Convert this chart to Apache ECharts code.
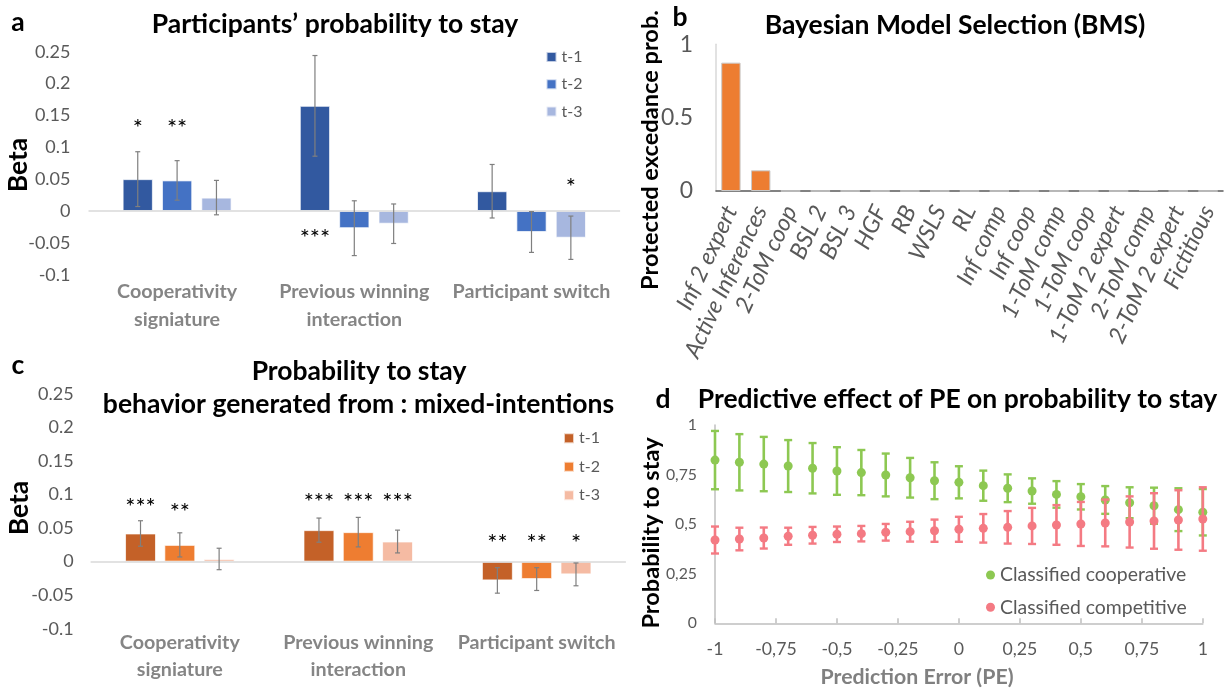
<!DOCTYPE html>
<html>
<head>
<meta charset="utf-8">
<script src="https://cdn.jsdelivr.net/npm/echarts@6/dist/echarts.min.js"></script>
<style>
  html, body { margin: 0; padding: 0; background: #fff; }
  #fig { width: 1224px; height: 691px; }
</style>
</head>
<body>
<div id="fig"></div>
<script>
// ---------- data ----------
const predictors = ['Cooperativity\nsigniature', 'Previous winning\ninteraction', 'Participant switch'];
const lagNames = ['t-1', 't-2', 't-3'];

// (a) participants' regression betas and SEM
const betaA_t1 = [0.050, 0.165, 0.031];
const betaA_t2 = [0.048, -0.027, -0.033];
const betaA_t3 = [0.021, -0.020, -0.042];
const errA_t1 = [0.043, 0.079, 0.042];
const errA_t2 = [0.031, 0.043, 0.032];
const errA_t3 = [0.027, 0.031, 0.034];
const sigA_t1 = ['*', '***', ''];
const sigA_t2 = ['**', '', ''];
const sigA_t3 = ['', '', '*'];
const sigPosA_t1 = [0.138, -0.035, 0];
const sigPosA_t2 = [0.138, 0, 0];
const sigPosA_t3 = [0, 0, 0.044];

// (c) simulated behaviour (mixed intentions)
const betaC_t1 = [0.042, 0.047, -0.028];
const betaC_t2 = [0.025, 0.044, -0.026];
const betaC_t3 = [0.004, 0.030, -0.019];
const errC_t1 = [0.019, 0.018, 0.019];
const errC_t2 = [0.018, 0.022, 0.017];
const errC_t3 = [0.016, 0.017, 0.017];
const sigC_t1 = ['***', '***', '**'];
const sigC_t2 = ['**', '***', '**'];
const sigC_t3 = ['', '***', '*'];
const sigPosC_t1 = [0.088, 0.095, 0.034];
const sigPosC_t2 = [0.080, 0.095, 0.034];
const sigPosC_t3 = [0, 0.095, 0.034];

// (b) Bayesian model selection
const models = ['Inf 2 expert', 'Active Inferences', '2-ToM coop', 'BSL 2', 'BSL 3', 'HGF', 'RB', 'WSLS', 'RL',
  'Inf comp', 'Inf coop', '1-ToM comp', '1-ToM coop', '1-ToM 2 expert', '2-ToM comp', '2-ToM 2 expert', 'Fictitious'];
const pxp = [0.875, 0.141, 0, 0, 0, 0, 0, 0, 0, 0, 0, 0, 0, 0, 0.006, 0, 0];

// (d) probability to stay as a function of prediction error
const peValues = [-1, -0.9, -0.8, -0.7, -0.6, -0.5, -0.4, -0.3, -0.2, -0.1, 0, 0.1, 0.2, 0.3, 0.4, 0.5, 0.6, 0.7, 0.8, 0.9, 1];
const stayCoop = [0.823, 0.812, 0.803, 0.793, 0.782, 0.768, 0.760, 0.748, 0.734, 0.719, 0.711, 0.694, 0.681, 0.667, 0.650, 0.638, 0.622, 0.608, 0.593, 0.573, 0.560];
const stayCoopErr = [0.147, 0.142, 0.137, 0.131, 0.127, 0.120, 0.114, 0.108, 0.100, 0.093, 0.081, 0.076, 0.070, 0.064, 0.067, 0.064, 0.070, 0.078, 0.091, 0.108, 0.117];
const stayComp = [0.420, 0.425, 0.430, 0.439, 0.444, 0.449, 0.452, 0.459, 0.462, 0.467, 0.474, 0.479, 0.484, 0.491, 0.496, 0.501, 0.506, 0.511, 0.516, 0.521, 0.526];
const stayCompErr = [0.068, 0.057, 0.053, 0.043, 0.042, 0.039, 0.039, 0.042, 0.050, 0.056, 0.063, 0.072, 0.082, 0.091, 0.100, 0.111, 0.118, 0.129, 0.140, 0.150, 0.160];

// ---------- styling ----------
const FONT = 'Lato, "Open Sans", "Noto Sans", sans-serif';
const GREY = '#595959';
const blues = ['#3259A0', '#4472C4', '#A7B7DF'];
const oranges = ['#C46128', '#EE7D31', '#F5BBA3'];
const GREEN = '#8DC852';
const RED = '#F47A83';

const GAP_A = { cat: 0.385, bar: 0.30 };
const GAP_C = { cat: 0.386, bar: 0.27 };

// font size that makes a string span the given width
const measureCtx = document.createElement('canvas').getContext('2d');
function sizeFor(text, width, weight, style) {
  measureCtx.font = (style || 'normal') + ' ' + (weight || 'normal') + ' 100px ' + FONT;
  return Math.round(100 * width / measureCtx.measureText(text).width * 10) / 10;
}

const TITLE_SIZE = sizeFor('behavior generated from : mixed-intentions', 512, 'bold');
const STAR_SIZE = sizeFor('***', 30.5);
const CAT_SIZE = sizeFor('Cooperativity', 120, 'bold');
const LEG_SIZE = sizeFor('t-1', 21);
const LEG_D_SIZE = sizeFor('Classified cooperative', 186);
const MODEL_SIZE = sizeFor('2-ToM coop', 115, 'normal', 'italic');
const BMS_TICK_SIZE = sizeFor('0.5', 32);
const PE_X_SIZE = sizeFor('-0,75', 41.5);
const PE_Y_SIZE = sizeFor('0,75', 31);

function barSeries(name, values, color, axis, gaps, withZeroLine) {
  const s = {
    type: 'bar', name, data: values, xAxisIndex: axis, yAxisIndex: axis,
    barCategoryGap: (gaps.cat * 100) + '%', barGap: (gaps.bar * 100) + '%',
    itemStyle: { color, borderColor: 'rgba(255,255,255,0.7)', borderWidth: 1 },
    z: 2, silent: true
  };
  if (withZeroLine) {
    s.markLine = {
      silent: true, symbol: 'none', label: { show: false },
      lineStyle: { color: '#D9D9D9', width: 1.5, type: 'solid' },
      data: [{ yAxis: 0 }]
    };
  }
  return s;
}

// x-centre of bar k (out of 3) inside its category band
function groupedX(api, catIdx, value, k, gaps) {
  const band = api.size([1, 0])[0];
  const inner = band * (1 - gaps.cat);
  const bw = inner / (3 + 2 * gaps.bar);
  return api.coord([catIdx, value])[0] - inner / 2 + bw / 2 + k * bw * (1 + gaps.bar);
}

function groupedErrors(axis, k, means, errs, gaps) {
  return {
    type: 'custom', xAxisIndex: axis, yAxisIndex: axis, z: 5, silent: true, clip: false,
    data: means.map((m, i) => [i, m, errs[i]]),
    renderItem: (params, api) => {
      const i = api.value(0), m = api.value(1), e = api.value(2);
      const cx = groupedX(api, i, m, k, gaps);
      const y1 = api.coord([i, m + e])[1], y2 = api.coord([i, m - e])[1];
      const st = { stroke: '#7F7F7F', lineWidth: 1.2 };
      return { type: 'group', children: [
        { type: 'line', shape: { x1: cx, y1: y1, x2: cx, y2: y2 }, style: st },
        { type: 'line', shape: { x1: cx - 2.5, y1: y1, x2: cx + 2.5, y2: y1 }, style: st },
        { type: 'line', shape: { x1: cx - 2.5, y1: y2, x2: cx + 2.5, y2: y2 }, style: st }
      ] };
    }
  };
}

function significance(axis, k, marks, positions, gaps) {
  const items = [];
  marks.forEach((t, i) => { if (t) items.push({ i, pos: positions[i], text: t }); });
  return {
    type: 'custom', xAxisIndex: axis, yAxisIndex: axis, z: 6, silent: true, clip: false,
    data: items.map(d => [d.i, d.pos]),
    renderItem: (params, api) => {
      const d = items[params.dataIndex];
      const cx = groupedX(api, d.i, d.pos, k, gaps);
      const cy = api.coord([d.i, d.pos])[1];
      return { type: 'text', x: cx, y: cy + STAR_SIZE * 0.2, style: {
        text: d.text, font: STAR_SIZE + 'px ' + FONT, fill: '#000',
        align: 'center', verticalAlign: 'middle', textAlign: 'center', textVerticalAlign: 'middle'
      } };
    }
  };
}

function peErrors(ys, errs, color, z) {
  return {
    type: 'custom', xAxisIndex: 3, yAxisIndex: 3, z, silent: true, clip: false,
    data: peValues.map((x, i) => [x, ys[i], errs[i]]),
    renderItem: (params, api) => {
      const x = api.value(0), y = api.value(1), e = api.value(2);
      const cx = api.coord([x, y])[0];
      const y1 = api.coord([x, y + e])[1], y2 = api.coord([x, y - e])[1];
      const st = { stroke: color, lineWidth: 2.6 };
      const cap = { stroke: color, lineWidth: 2.4 };
      return { type: 'group', children: [
        { type: 'line', shape: { x1: cx, y1: y1, x2: cx, y2: y2 }, style: st },
        { type: 'line', shape: { x1: cx - 4, y1: y1, x2: cx + 4, y2: y1 }, style: cap },
        { type: 'line', shape: { x1: cx - 4, y1: y2, x2: cx + 4, y2: y2 }, style: cap }
      ] };
    }
  };
}

const commaFmt = v => String(v).replace('.', ',');

function betaCategoryAxis(grid, margin, lh) {
  return {
    type: 'category', gridIndex: grid, data: predictors,
    axisLine: { show: false, onZero: false }, axisTick: { show: false },
    axisLabel: { interval: 0, margin, color: '#858585', fontFamily: FONT, fontSize: CAT_SIZE, fontWeight: 'bold', lineHeight: lh }
  };
}
function betaValueAxis(grid, margin) {
  return {
    type: 'value', gridIndex: grid, min: -0.1, max: 0.25, interval: 0.05,
    axisLine: { show: false, onZero: false }, axisTick: { show: false }, splitLine: { show: false },
    axisLabel: { margin, color: GREY, fontFamily: FONT, fontSize: 18 }
  };
}

function txt(x, y, text, size, opts) {
  opts = opts || {};
  return {
    type: 'text', x, y, rotation: opts.rot || 0, silent: true,
    style: {
      text, font: (opts.weight || 'bold') + ' ' + size + 'px ' + FONT, fill: opts.color || '#000',
      align: 'center', verticalAlign: 'middle', textAlign: 'center', textVerticalAlign: 'middle'
    }
  };
}

const option = {
  animation: false,
  backgroundColor: '#fff',
  grid: [
    { left: 88.5, top: 51.7, width: 531.6, height: 223 },
    { left: 716, top: 44.3, width: 507, height: 146.7 },
    { left: 90.6, top: 394, width: 535.3, height: 234.7 },
    { left: 715, top: 425, width: 487.8, height: 198.3 }
  ],
  xAxis: [
    betaCategoryAxis(0, 3, 28),
    {
      type: 'category', gridIndex: 1, data: models,
      axisLine: { lineStyle: { color: GREY, width: 1.5 } }, axisTick: { show: false },
      axisLabel: { interval: 0, rotate: 65, margin: 16, color: GREY, fontFamily: FONT, fontSize: MODEL_SIZE, fontStyle: 'italic' }
    },
    betaCategoryAxis(2, 0, 27),
    {
      type: 'value', gridIndex: 3, min: -1, max: 1, interval: 0.25,
      axisLine: { onZero: false, lineStyle: { color: '#BFBFBF', width: 1.5 } },
      axisTick: { inside: true, length: 5, lineStyle: { color: '#BFBFBF', width: 1.5 } },
      splitLine: { show: false },
      axisLabel: { margin: 17, color: GREY, fontFamily: FONT, fontSize: PE_X_SIZE, formatter: commaFmt }
    }
  ],
  yAxis: [
    betaValueAxis(0, 18),
    {
      type: 'value', gridIndex: 1, min: 0, max: 1, interval: 0.5,
      axisLine: { show: true, onZero: false, lineStyle: { color: '#D9D9D9', width: 1.5 } }, axisTick: { show: false },
      splitLine: { show: false },
      axisLabel: { margin: 23, color: GREY, fontFamily: FONT, fontSize: BMS_TICK_SIZE }
    },
    betaValueAxis(2, 17),
    {
      type: 'value', gridIndex: 3, min: 0, max: 1, interval: 0.25,
      axisLine: { show: true, onZero: false, lineStyle: { color: '#BFBFBF', width: 1.5 } }, axisTick: { show: false },
      splitLine: { show: false },
      axisLabel: { margin: 18, color: GREY, fontFamily: FONT, fontSize: PE_Y_SIZE, formatter: commaFmt }
    }
  ],
  legend: [
    {
      orient: 'vertical', left: 545.5, top: 47, padding: 0, itemWidth: 10, itemHeight: 10, itemGap: 7.3,
      textStyle: { color: GREY, fontFamily: FONT, fontSize: LEG_SIZE, lineHeight: 20 },
      selectedMode: false,
      data: lagNames.map((n, i) => ({ name: n, icon: 'rect', itemStyle: { color: blues[i] } }))
    },
    {
      orient: 'vertical', left: 563, top: 428.3, padding: 0, itemWidth: 10, itemHeight: 10, itemGap: 8.5,
      textStyle: { color: GREY, fontFamily: FONT, fontSize: LEG_SIZE, lineHeight: 20 },
      selectedMode: false,
      data: lagNames.map((n, i) => ({ name: n, icon: 'rect', itemStyle: { color: oranges[i] } }))
    },
    {
      orient: 'vertical', left: 986, top: 564, padding: 0, itemWidth: 9, itemHeight: 9, itemGap: 10.3,
      textStyle: { color: GREY, fontFamily: FONT, fontSize: LEG_D_SIZE, lineHeight: 22 },
      selectedMode: false,
      data: [
        { name: 'Classified cooperative', icon: 'circle', itemStyle: { color: GREEN } },
        { name: 'Classified competitive', icon: 'circle', itemStyle: { color: RED } }
      ]
    }
  ],
  series: [
    // (a)
    barSeries('t-1', betaA_t1, blues[0], 0, GAP_A, true),
    barSeries('t-2', betaA_t2, blues[1], 0, GAP_A, false),
    barSeries('t-3', betaA_t3, blues[2], 0, GAP_A, false),
    groupedErrors(0, 0, betaA_t1, errA_t1, GAP_A),
    groupedErrors(0, 1, betaA_t2, errA_t2, GAP_A),
    groupedErrors(0, 2, betaA_t3, errA_t3, GAP_A),
    significance(0, 0, sigA_t1, sigPosA_t1, GAP_A),
    significance(0, 1, sigA_t2, sigPosA_t2, GAP_A),
    significance(0, 2, sigA_t3, sigPosA_t3, GAP_A),
    // (b)
    {
      type: 'bar', name: 'PXP', data: pxp, xAxisIndex: 1, yAxisIndex: 1, barCategoryGap: '35%', silent: true,
      itemStyle: { color: '#ED7D31', borderColor: '#C9C9C9', borderWidth: 1 }
    },
    // (c)
    barSeries('t-1', betaC_t1, oranges[0], 2, GAP_C, true),
    barSeries('t-2', betaC_t2, oranges[1], 2, GAP_C, false),
    barSeries('t-3', betaC_t3, oranges[2], 2, GAP_C, false),
    groupedErrors(2, 0, betaC_t1, errC_t1, GAP_C),
    groupedErrors(2, 1, betaC_t2, errC_t2, GAP_C),
    groupedErrors(2, 2, betaC_t3, errC_t3, GAP_C),
    significance(2, 0, sigC_t1, sigPosC_t1, GAP_C),
    significance(2, 1, sigC_t2, sigPosC_t2, GAP_C),
    significance(2, 2, sigC_t3, sigPosC_t3, GAP_C),
    // (d)
    peErrors(stayCoop, stayCoopErr, GREEN, 3),
    {
      type: 'scatter', name: 'Classified cooperative', xAxisIndex: 3, yAxisIndex: 3, z: 4, silent: true,
      symbol: 'circle', symbolSize: 9, itemStyle: { color: GREEN, opacity: 1 },
      data: peValues.map((x, i) => [x, stayCoop[i]])
    },
    peErrors(stayComp, stayCompErr, RED, 5),
    {
      type: 'scatter', name: 'Classified competitive', xAxisIndex: 3, yAxisIndex: 3, z: 6, silent: true,
      symbol: 'circle', symbolSize: 9, itemStyle: { color: RED, opacity: 1 },
      data: peValues.map((x, i) => [x, stayComp[i]])
    }
  ],
  graphic: [
    // panel letters
    txt(18, 22, 'a', TITLE_SIZE),
    txt(680, 17, 'b', TITLE_SIZE),
    txt(18, 365, 'c', TITLE_SIZE),
    txt(663, 399, 'd', TITLE_SIZE),
    // titles
    txt(335, 24, 'Participants\u2019 probability to stay', TITLE_SIZE),
    txt(955, 25, 'Bayesian Model Selection (BMS)', TITLE_SIZE),
    txt(359, 371, 'Probability to stay', TITLE_SIZE),
    txt(358.5, 404, 'behavior generated from : mixed-intentions', TITLE_SIZE),
    txt(957.5, 399, 'Predictive effect of PE on probability to stay', TITLE_SIZE),
    // axis names
    txt(18, 165, 'Beta', TITLE_SIZE, { rot: Math.PI / 2 }),
    txt(19, 508, 'Beta', TITLE_SIZE, { rot: Math.PI / 2 }),
    txt(650, 150, 'Protected excedance prob.', sizeFor('Protected excedance prob.', 280, 'bold'), { rot: Math.PI / 2 }),
    txt(651, 533, 'Probability to stay', sizeFor('Probability to stay', 191, 'bold'), { rot: Math.PI / 2 }),
    txt(917, 677, 'Prediction Error (PE)', sizeFor('Prediction Error (PE)', 193, 'bold'), { color: '#808080' })
  ]
};

const chart = echarts.init(document.getElementById('fig'), null, { renderer: 'canvas' });
chart.setOption(option);
</script>
</body>
</html>
